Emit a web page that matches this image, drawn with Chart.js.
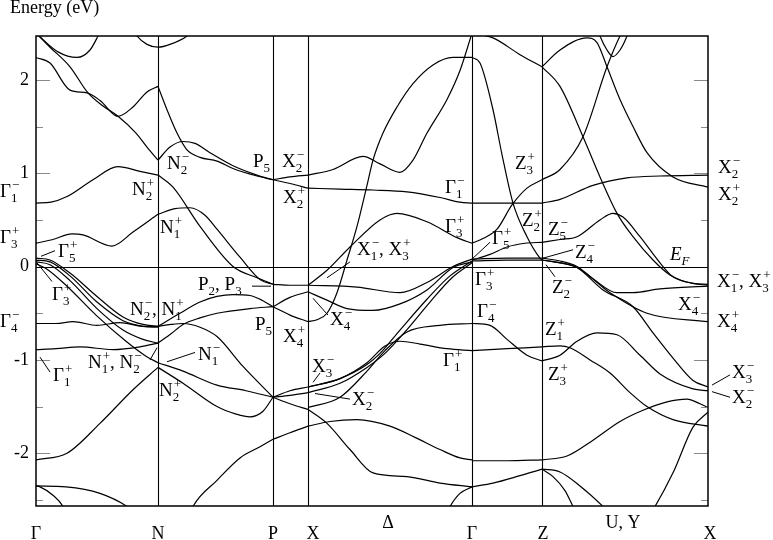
<!DOCTYPE html>
<html>
<head>
<meta charset="utf-8">
<script src="https://cdn.jsdelivr.net/npm/chart.js@4.4.1/dist/chart.umd.min.js"></script>
<style>
  html, body { margin: 0; padding: 0; background: #fff; }
  canvas { display: block; }
</style>
</head>
<body>
<canvas id="bands" width="773" height="540"></canvas>
<script>
// high-symmetry points along the k-path (path distance, arbitrary units)
const symPoints = ['Γ', 'N', 'P', 'X', 'Γ', 'Z', 'X'];
const symK = [0, 122, 237, 272, 436, 506, 672];
const energyRange = [-2.565, 2.47];
const yTicks = [-2.5, -2, -1.5, -1, -0.5, 0, 0.5, 1, 1.5, 2];

// bands as [k, E (eV)] pairs
const bandsGN = [
  [[0,2.5],[22,2.3],[41,2.24],[54,2.32],[62,2.47],[68,2.6]],
  [[0,2.5],[14,2.35],[34,2.14],[52,1.86],[67,1.72],[82,1.61],[100,1.43],[111,1.28],[122,1.14]],
  [[0,2.24],[14,2.18],[34,1.89],[51,1.86],[64,1.78],[82,1.61],[97,1.71],[111,1.87],[122,1.93]],
  [[94,2.6],[101,2.47],[111,2.38],[122,2.35],[134,2.38],[151,2.47],[159,2.56]],
  [[0,0.68],[15,0.69],[31,0.75],[57,0.93],[82,1.07],[104,1.02],[122,0.98]],
  [[0,0.25],[17,0.29],[36,0.35],[47,0.34],[76,0.22],[97,0.37],[122,0.56]],
  [[0,0.09],[14,0.07],[34,-0.07],[61,-0.32],[87,-0.54],[107,-0.62],[122,-0.64]],
  [[0,0.07],[14,0.05],[34,-0.1],[61,-0.38],[87,-0.58],[107,-0.64],[122,-0.65]],
  [[0,0.05],[14,0.02],[34,-0.15],[61,-0.45],[87,-0.68],[107,-0.78],[122,-0.82]],
  [[0,0.03],[10,-0.02],[30,-0.2],[60,-0.52],[90,-0.8],[110,-0.96],[122,-1.03]],
  [[0,-0.61],[20,-0.61],[37,-0.59],[61,-0.63],[84,-0.6],[107,-0.64],[122,-0.64]],
  [[0,-0.89],[20,-0.88],[44,-0.86],[77,-0.89],[104,-0.86],[122,-0.82]],
  [[0,-2.07],[31,-2.0],[64,-1.68],[97,-1.32],[122,-1.08]],
  [[0,-2.35],[30,-2.36],[64,-2.43],[91,-2.57],[100,-2.65]],
  [[0,-2.35],[4,-2.36],[17,-2.45],[27,-2.57],[32,-2.7]]
];

const bandsNP = [
  [[122,1.93],[131,1.68],[141,1.43],[151,1.25],[164,1.17],[181,1.13],[197,1.05],[221,0.97],[237,0.93]],
  [[122,1.14],[134,1.28],[147,1.34],[159,1.32],[174,1.22],[197,1.08],[221,0.98],[237,0.93]],
  [[122,0.56],[139,0.62],[154,0.63],[169,0.55],[181,0.40],[204,0.10],[224,-0.14],[237,-0.19]],
  [[122,0.98],[137,0.85],[164,0.43],[197,0.0],[221,-0.12],[237,-0.19]],
  [[122,-0.64],[144,-0.5],[164,-0.38],[181,-0.32],[197,-0.3],[214,-0.31],[226,-0.36],[237,-0.43]],
  [[122,-0.82],[135,-0.72],[147,-0.62],[164,-0.55],[181,-0.5],[214,-0.45],[237,-0.43]],
  [[122,-0.64],[135,-0.62],[147,-0.61],[164,-0.65],[181,-0.75],[207,-1.07],[237,-1.40]],
  [[122,-1.03],[147,-1.12],[181,-1.27],[210,-1.33],[237,-1.40]],
  [[122,-1.08],[147,-1.25],[181,-1.5],[200,-1.58],[214,-1.61],[227,-1.55],[237,-1.40]],
  [[154,-2.65],[157,-2.57],[181,-2.29],[204,-2.05],[224,-1.93],[237,-1.85]]
];

const bandsPX = [
  [[237,0.93],[254,0.96],[272,0.98]],
  [[237,0.93],[254,0.89],[272,0.84]],
  [[237,-0.19],[254,-0.2],[272,-0.2]],
  [[237,-0.43],[254,-0.33],[272,-0.27]],
  [[237,-0.43],[254,-0.52],[272,-0.59]],
  [[237,-1.40],[254,-1.33],[272,-1.29]],
  [[237,-1.40],[254,-1.38],[272,-1.35]],
  [[237,-1.40],[254,-1.47],[272,-1.53]],
  [[237,-1.85],[254,-1.78],[272,-1.71]]
];

const bandsXG = [
  [[272,0.98],[297,1.04],[327,1.18],[344,1.1],[364,1.01],[377,1.14],[391,1.43],[411,1.79],[424,2.1],[436,2.5]],
  [[272,-0.59],[281,-0.57],[291,-0.5],[301,-0.28],[311,0.07],[321,0.43],[331,0.87],[337,1.14],[347,1.43],[361,1.71],[377,1.96],[397,2.16],[417,2.24],[436,2.24]],
  [[272,0.84],[304,0.83],[337,0.82],[371,0.80],[404,0.74],[424,0.69],[436,0.68]],
  [[272,-0.2],[291,-0.04],[314,0.21],[344,0.5],[361,0.57],[391,0.48],[421,0.31],[436,0.25]],
  [[272,-0.2],[321,-0.22],[364,-0.28],[391,-0.17],[417,0.0],[436,0.08]],
  [[272,-0.27],[291,-0.36],[311,-0.45],[337,-0.47],[364,-0.4],[391,-0.25],[417,-0.01],[436,0.05]],
  [[272,-1.29],[304,-1.2],[331,-1.05],[344,-0.93],[364,-0.68],[391,-0.35],[414,-0.1],[436,0.06]],
  [[272,-1.35],[304,-1.25],[331,-1.08],[349,-0.93],[369,-0.7],[394,-0.38],[416,-0.12],[436,0.04]],
  [[272,-1.51],[304,-1.4],[331,-1.12],[349,-0.9],[371,-0.7],[404,-0.63],[436,-0.61]],
  [[272,-1.29],[304,-1.2],[331,-1.03],[349,-0.85],[364,-0.8],[384,-0.83],[411,-0.88],[436,-0.9]],
  [[272,-1.71],[294,-1.66],[321,-1.64],[354,-1.71],[379,-1.83],[404,-1.96],[424,-2.05],[436,-2.07]],
  [[272,-1.53],[291,-1.68],[314,-1.96],[337,-2.21],[371,-2.25],[404,-2.32],[436,-2.36]],
  [[408,-2.7],[414,-2.57],[424,-2.43],[436,-2.36]]
];

const bandsGZ = [
  [[436,2.5],[457,2.45],[484,2.27],[506,2.14]],
  [[436,2.24],[444,2.18],[457,1.68],[466,1.2],[477,0.68],[491,0.32],[504,0.09],[506,0.07]],
  [[436,0.25],[447,0.3],[461,0.4],[476,0.66],[491,0.84],[506,0.93]],
  [[436,0.68],[471,0.68],[506,0.68]],
  [[436,0.07],[454,0.13],[471,0.21],[489,0.25],[506,0.26]],
  [[436,0.08],[471,0.09],[506,0.09]],
  [[436,0.06],[471,0.07],[506,0.07]],
  [[436,-0.61],[454,-0.63],[471,-0.78],[491,-0.95],[506,-1.01]],
  [[436,-0.9],[471,-0.88],[506,-0.86]],
  [[436,-2.36],[457,-2.32],[484,-2.24],[506,-2.17]],
  [[436,-2.08],[471,-2.08],[506,-2.07]]
];

const bandsZX = [
  [[506,2.14],[524,2.32],[551,2.45],[561,2.4],[571,2.14],[584,1.79],[597,1.5],[611,1.22],[637,0.96],[672,0.85]],
  [[506,0.68],[524,0.72],[557,0.87],[591,0.95],[624,0.97],[672,0.98]],
  [[506,0.93],[524,1.04],[547,1.39],[571,2.14],[584,2.47],[591,2.6]],
  [[560,2.6],[564,2.47],[571,2.32],[577,2.25],[584,2.32],[591,2.47],[595,2.6]],
  [[506,2.14],[524,1.93],[547,1.39],[564,0.96],[581,0.57],[597,0.32],[617,0.07],[634,-0.09],[657,-0.18],[672,-0.19]],
  [[506,0.26],[524,0.29],[541,0.32],[564,0.5],[577,0.57],[587,0.53],[604,0.32],[624,0.04],[637,-0.11],[657,-0.18],[672,-0.2]],
  [[506,0.09],[524,0.06],[541,0.0],[557,-0.13],[581,-0.28],[597,-0.28],[624,-0.24],[672,-0.21]],
  [[506,0.07],[541,-0.01],[574,-0.28],[611,-0.5],[672,-0.59]],
  [[506,0.07],[524,0.04],[541,-0.01],[567,-0.25],[597,-0.43],[617,-0.71],[637,-0.98],[657,-1.22],[672,-1.29]],
  [[506,-1.01],[524,-0.95],[541,-0.8],[561,-0.71],[581,-0.73],[604,-0.95],[624,-1.15],[657,-1.31],[672,-1.33]],
  [[506,-0.86],[524,-0.85],[534,-0.87],[554,-1.0],[574,-1.14],[594,-1.35],[611,-1.5],[637,-1.64],[672,-1.71]],
  [[506,-2.07],[531,-2.03],[557,-1.86],[584,-1.66],[607,-1.54],[631,-1.45],[651,-1.42],[664,-1.47],[672,-1.51]],
  [[614,-2.65],[619,-2.57],[637,-2.21],[657,-1.72],[672,-1.56]],
  [[506,-2.17],[517,-2.25],[529,-2.4],[537,-2.57],[541,-2.65]],
  [[506,-2.17],[524,-2.2],[544,-2.35],[567,-2.57],[574,-2.65]]
];

// irreducible-representation labels: text, k, E of the baseline start, optional leader line
const repLabels = [
  {t: 'Γ_1^−', k: -36, e: 0.75},
  {t: 'Γ_3^+', k: -36, e: 0.25},
  {t: 'Γ_4^−', k: -36, e: -0.65},
  {t: 'Γ_5^+', k: 22, e: 0.10, lead: [5, 0.11, 19, 0.17]},
  {t: 'Γ_3^+', k: 16, e: -0.36, lead: [1, 0.04, 16, -0.16]},
  {t: 'Γ_1^+', k: 17, e: -1.23, lead: [4, -0.97, 14, -1.13]},
  {t: 'N_2^−', k: 131, e: 1.04},
  {t: 'N_2^+', k: 96, e: 0.77},
  {t: 'N_1^+', k: 124, e: 0.36},
  {t: 'N_2^−, N_1^+', k: 94, e: -0.52},
  {t: 'N_1^+, N_2^−', k: 52, e: -1.09, lead: [114, -1.0, 121, -0.87]},
  {t: 'N_1^−', k: 162, e: -1.0, lead: [131, -1.02, 159, -0.92]},
  {t: 'N_2^+', k: 123, e: -1.39},
  {t: 'P_5', k: 217, e: 1.07},
  {t: 'X_2^−', k: 246, e: 1.07},
  {t: 'X_2^+', k: 247, e: 0.68},
  {t: 'P_2, P_3', k: 162, e: -0.25, lead: [216, -0.21, 235, -0.21]},
  {t: 'P_5', k: 219, e: -0.68},
  {t: 'X_4^+', k: 247, e: -0.81},
  {t: 'X_4^−', k: 294, e: -0.63, lead: [277, -0.34, 292, -0.52]},
  {t: 'X_1^−, X_3^+', k: 321, e: 0.125, lead: [291, -0.12, 314, 0.05]},
  {t: 'X_3^−', k: 276, e: -1.13, lead: [277, -1.24, 284, -1.14]},
  {t: 'X_2^−', k: 316, e: -1.48, lead: [279, -1.36, 314, -1.42]},
  {t: 'Γ_1^−', k: 409, e: 0.79},
  {t: 'Γ_3^+', k: 409, e: 0.37},
  {t: 'Γ_1^+', k: 407, e: -1.07},
  {t: 'Γ_5^+', k: 456, e: 0.24, lead: [437, 0.09, 454, 0.26]},
  {t: 'Γ_3^+', k: 439, e: -0.2},
  {t: 'Γ_4^−', k: 441, e: -0.54},
  {t: 'Z_3^+', k: 479, e: 1.04},
  {t: 'Z_2^+', k: 486, e: 0.43},
  {t: 'Z_5^−', k: 512, e: 0.34},
  {t: 'Z_4^−', k: 539, e: 0.09, lead: [507, 0.09, 537, 0.18]},
  {t: 'Z_2^−', k: 516, e: -0.28, lead: [510, 0.02, 519, -0.11]},
  {t: 'Z_1^+', k: 509, e: -0.73},
  {t: 'Z_3^+', k: 512, e: -1.21},
  {t: 'E_F', k: 634, e: 0.07, italic: true},
  {t: 'X_4^−', k: 642, e: -0.46},
  {t: 'X_2^−', k: 682, e: 1.0},
  {t: 'X_2^+', k: 682, e: 0.71},
  {t: 'X_1^−, X_3^+', k: 681, e: -0.22},
  {t: 'X_4^+', k: 681, e: -0.65},
  {t: 'X_3^−', k: 696, e: -1.19, lead: [676, -1.27, 694, -1.16]},
  {t: 'X_2^−', k: 696, e: -1.46, lead: [676, -1.34, 694, -1.40]}
];

const pathLabels = [
  {t: 'Γ', k: 0}, {t: 'N', k: 122}, {t: 'P', k: 237}, {t: 'X', k: 277},
  {t: 'Δ', k: 352, raised: true}, {t: 'Γ', k: 436}, {t: 'Z', k: 507},
  {t: 'U, Y', k: 587, raised: true}, {t: 'X', k: 674}
];

const SERIF = '"Liberation Serif", "Times New Roman", serif';
const allBands = [...bandsGN, ...bandsNP, ...bandsPX, ...bandsXG, ...bandsGZ, ...bandsZX];

function drawSym(ctx, str, x, y, italic) {
  const base = (italic ? 'italic ' : '') + '19px ' + SERIF;
  const small = (italic ? 'italic ' : '') + '13px ' + SERIF;
  str.split(', ').forEach((grp, i) => {
    if (i > 0) {
      ctx.font = base;
      ctx.fillText(', ', x, y);
      x += ctx.measureText(', ').width;
    }
    const m = grp.match(/^([^_^]+)(?:_([^^]+))?(?:\^(.+))?$/);
    ctx.font = base;
    ctx.fillText(m[1], x, y);
    x += ctx.measureText(m[1]).width;
    ctx.font = small;
    let w = 0;
    if (m[2]) { ctx.fillText(m[2], x, y + 5); w = ctx.measureText(m[2]).width; }
    if (m[3]) { ctx.fillText(m[3], x + 1, y - 8); w = Math.max(w, ctx.measureText(m[3]).width + 1); }
    x += w;
  });
}

const bandFrame = {
  id: 'bandFrame',
  afterDatasetsDraw(chart) {
    const {ctx, chartArea: a, scales: {x, y}} = chart;
    const seg = (x1, y1, x2, y2) => { ctx.beginPath(); ctx.moveTo(x1, y1); ctx.lineTo(x2, y2); ctx.stroke(); };
    ctx.save();

    // inward tick marks on both sides
    ctx.strokeStyle = '#8a8a8a';
    ctx.lineWidth = 1;
    yTicks.forEach(v => {
      const len = Number.isInteger(v) ? 14 : 7;
      const py = Math.round(y.getPixelForValue(v)) + 0.5;
      seg(a.left, py, a.left + len, py);
      seg(a.right - len, py, a.right, py);
    });

    // Fermi level and high-symmetry verticals
    ctx.strokeStyle = '#000';
    ctx.lineWidth = 1.1;
    const y0 = Math.round(y.getPixelForValue(0)) + 0.5;
    seg(a.left, y0, a.right, y0);
    symK.slice(1, -1).forEach(k => {
      const px = Math.round(x.getPixelForValue(k)) + 0.5;
      seg(px, a.top, px, a.bottom);
    });

    ctx.lineWidth = 1.5;
    ctx.strokeRect(a.left, a.top, a.right - a.left, a.bottom - a.top);

    // labels and leaders
    ctx.fillStyle = '#000';
    ctx.textAlign = 'left';
    ctx.textBaseline = 'alphabetic';
    ctx.lineWidth = 1;
    repLabels.forEach(l => {
      drawSym(ctx, l.t, x.getPixelForValue(l.k), y.getPixelForValue(l.e), l.italic);
      if (l.lead) {
        const [k1, e1, k2, e2] = l.lead;
        seg(x.getPixelForValue(k1), y.getPixelForValue(e1), x.getPixelForValue(k2), y.getPixelForValue(e2));
      }
    });

    ctx.font = '18px ' + SERIF;
    ctx.textAlign = 'center';
    pathLabels.forEach(l => {
      ctx.fillText(l.t, x.getPixelForValue(l.k), a.bottom + (l.raised ? 22 : 33));
    });

    ctx.textAlign = 'left';
    ctx.fillText('Energy (eV)', 10, 13);
    ctx.restore();
  }
};

new Chart(document.getElementById('bands'), {
  type: 'line',
  data: {
    datasets: allBands.map(b => ({
      data: b.map(([k, e]) => ({x: k, y: e})),
      borderColor: '#000',
      borderWidth: 1.2,
      pointRadius: 0,
      fill: false,
      cubicInterpolationMode: 'monotone',
      clip: 0
    }))
  },
  options: {
    responsive: false,
    animation: false,
    devicePixelRatio: 1,
    layout: {padding: {top: 36, right: 65, bottom: 34, left: 0}},
    plugins: {legend: {display: false}, tooltip: {enabled: false}},
    scales: {
      x: {type: 'linear', min: symK[0], max: symK[symK.length - 1], display: false},
      y: {
        type: 'linear',
        min: energyRange[0],
        max: energyRange[1],
        afterFit: s => { s.width = 36; },
        afterBuildTicks: s => { s.ticks = yTicks.map(v => ({value: v})); },
        grid: {display: false, drawTicks: false},
        border: {display: false},
        ticks: {
          autoSkip: false,
          padding: 7,
          color: '#000',
          font: {family: SERIF, size: 18},
          callback: v => Number.isInteger(v) ? String(v) : ''
        }
      }
    }
  },
  plugins: [bandFrame]
});
</script>
</body>
</html>
